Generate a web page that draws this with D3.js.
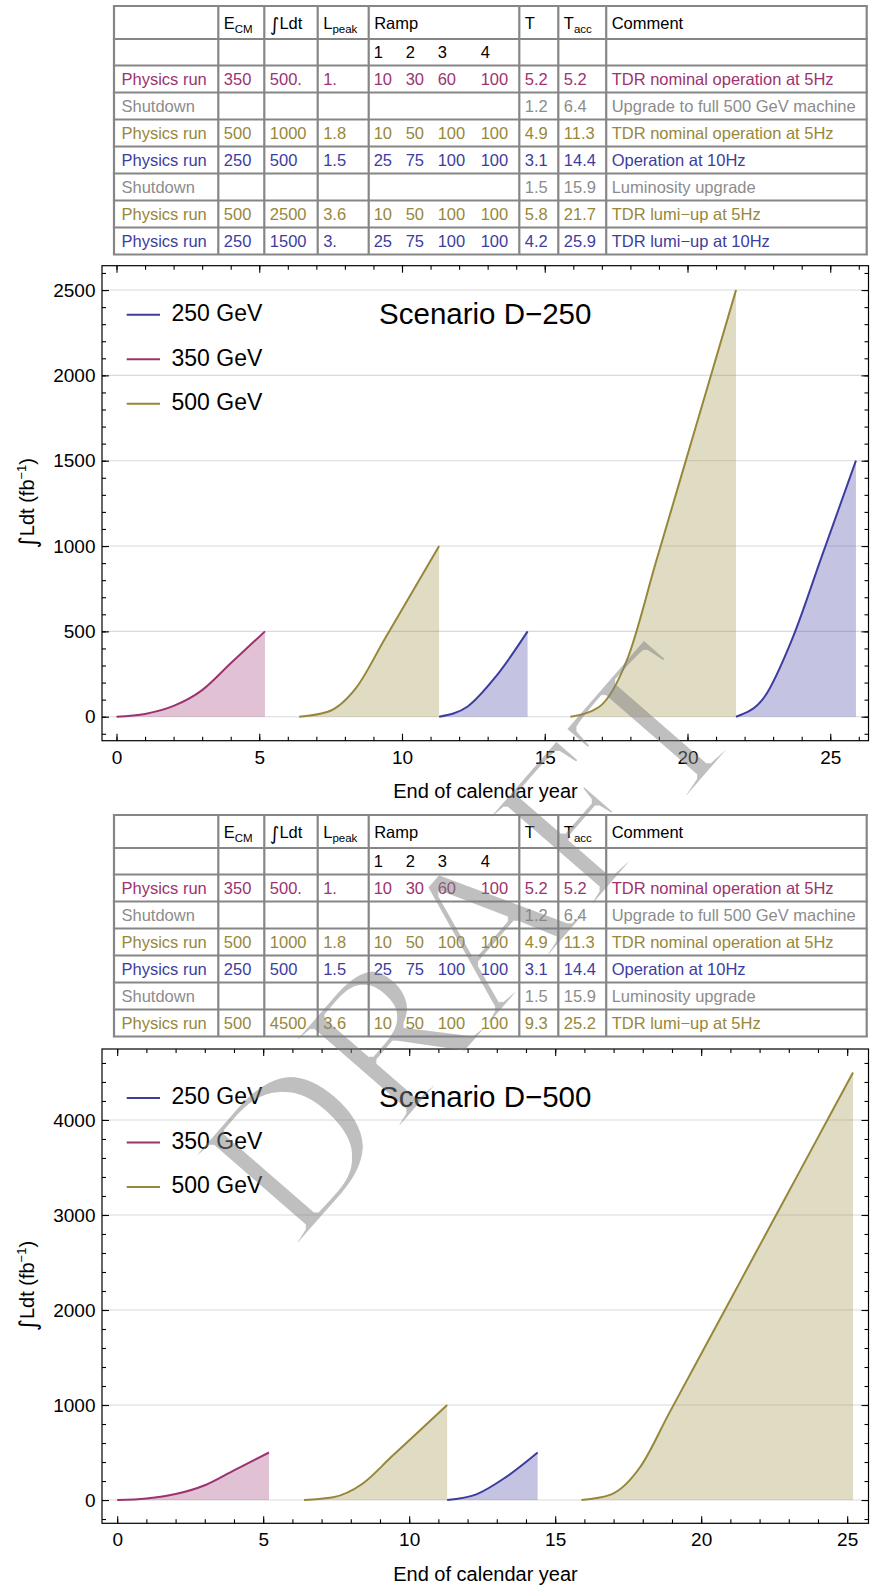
<!DOCTYPE html>
<html><head><meta charset="utf-8">
<script src="https://cdn.jsdelivr.net/npm/d3@7"></script>
<style>
body{margin:0;background:#fff;}
svg{display:block;font-family:"Liberation Sans",Arial,Helvetica,sans-serif;}
</style></head><body>
<svg id="c" width="870" height="1587"></svg>
<script>
// ------------------- DATA -------------------
const headerCols = ["", "E|CM", "\u222B|Ldt", "L|peak", "Ramp", "T", "T|acc", "Comment"];
const rampHeader = ["1", "2", "3", "4"];

// Table for scenario D-250
const kindD250    = ["350", "shut", "500", "250", "shut", "500", "250"];
const labelD250   = ["Physics run", "Shutdown", "Physics run", "Physics run", "Shutdown", "Physics run", "Physics run"];
const energyD250  = ["350", "", "500", "250", "", "500", "250"];
const lumiD250    = ["500.", "", "1000", "500", "", "2500", "1500"];
const peakD250    = ["1.", "", "1.8", "1.5", "", "3.6", "3."];
const rampD250    = [["10","30","60","100"], [], ["10","50","100","100"], ["25","75","100","100"], [], ["10","50","100","100"], ["25","75","100","100"]];
const tD250       = ["5.2", "1.2", "4.9", "3.1", "1.5", "5.8", "4.2"];
const taccD250    = ["5.2", "6.4", "11.3", "14.4", "15.9", "21.7", "25.9"];
const commentD250 = ["TDR nominal operation at 5Hz", "Upgrade to full 500 GeV machine", "TDR nominal operation at 5Hz", "Operation at 10Hz", "Luminosity upgrade", "TDR lumi\u2212up at 5Hz", "TDR lumi\u2212up at 10Hz"];

// Table for scenario D-500
const kindD500    = ["350", "shut", "500", "250", "shut", "500"];
const labelD500   = ["Physics run", "Shutdown", "Physics run", "Physics run", "Shutdown", "Physics run"];
const energyD500  = ["350", "", "500", "250", "", "500"];
const lumiD500    = ["500.", "", "1000", "500", "", "4500"];
const peakD500    = ["1.", "", "1.8", "1.5", "", "3.6"];
const rampD500    = [["10","30","60","100"], [], ["10","50","100","100"], ["25","75","100","100"], [], ["10","50","100","100"]];
const tD500       = ["5.2", "1.2", "4.9", "3.1", "1.5", "9.3"];
const taccD500    = ["5.2", "6.4", "11.3", "14.4", "15.9", "25.2"];
const commentD500 = ["TDR nominal operation at 5Hz", "Upgrade to full 500 GeV machine", "TDR nominal operation at 5Hz", "Operation at 10Hz", "Luminosity upgrade", "TDR lumi\u2212up at 5Hz"];

// Integrated luminosity curves (year, fb^-1)
const run350Years = [0, 1, 2, 3, 4, 5.2];
const run350Lumi  = [0, 16, 63, 156, 313, 500];
const run500aYears = [6.4, 7.4, 8.4, 9.4, 10.4, 11.3];
const run500aLumi  = [0, 29, 171, 457, 743, 1000];
const run250aYears = [11.3, 12.3, 13.3, 14.4];
const run250aLumi  = [0, 60, 238, 500];
const run500bYearsD250 = [15.9, 16.9, 17.9, 18.9, 19.9, 20.9, 21.7];
const run500bLumiD250  = [0, 57, 341, 909, 1477, 2045, 2500];
const run250bYearsD250 = [21.7, 22.7, 23.7, 24.7, 25.9];
const run250bLumiD250  = [0, 117, 469, 938, 1500];
const run500bYearsD500 = [15.9, 16.9, 17.9, 18.9, 19.9, 20.9, 21.9, 22.9, 23.9, 24.9, 25.2];
const run500bLumiD500  = [0, 57, 342, 912, 1481, 2051, 2620, 3190, 3759, 4329, 4500];

const legendLabels = ["250 GeV", "350 GeV", "500 GeV"];
const legendKinds  = ["250", "350", "500"];
const xTickValues = [0, 5, 10, 15, 20, 25];
const yTicksD250 = [0, 500, 1000, 1500, 2000, 2500];
const yTicksD500 = [0, 1000, 2000, 3000, 4000];

// ------------------- STYLE -------------------
const lineColor = {"250": "#3d3d9f", "350": "#9c3370", "500": "#978739", "shut": "#8c8c8c"};
const textColor = {"250": "#3d3d9f", "350": "#9c3370", "500": "#978739", "shut": "#8c8c8c"};
const INTEGRAL_FONT = "'DejaVu Sans',sans-serif";

const svg = d3.select("#c");
svg.append("rect").attr("width", 870).attr("height", 1587).attr("fill", "#fff");
const defs = svg.append("defs");
defs.append("filter").attr("id", "thin").attr("x", "-10%").attr("y", "-10%").attr("width", "120%").attr("height", "120%")
  .append("feMorphology").attr("operator", "erode").attr("radius", 2);

// ------------------- TABLES -------------------
const colX = [114, 218.3, 264.3, 317.7, 368.7, 519.3, 558.3, 606.2, 866.7];
const rampOffsets = [5, 37, 69, 112];

function drawTable(top, kinds, labels, energy, lumi, peak, ramp, tt, tacc, comment) {
  const g = svg.append("g");
  const rowTops = [top, top + 33, top + 59.5];
  for (let i = 0; i < kinds.length; i++) rowTops.push(top + 59.5 + 27 * (i + 1));
  const bottom = rowTops[rowTops.length - 1];
  const fs = 16.5;
  const hy = top + 16.5 + 6;
  headerCols.forEach((h, i) => {
    const parts = h.split("|");
    const t = g.append("text").attr("x", colX[i] + (i === 0 ? 7.5 : 5.5)).attr("y", hy)
      .attr("font-size", fs).attr("fill", "#000");
    if (parts[0] === "\u222B") {
      t.append("tspan").attr("font-family", INTEGRAL_FONT).attr("font-size", 18.5).attr("dy", 2).text("\u222B");
      t.append("tspan").attr("dy", -2).text(parts[1]);
    } else {
      t.append("tspan").text(parts[0]);
      if (parts[1]) t.append("tspan").attr("font-size", 11.5).attr("dy", 4).text(parts[1]);
    }
  });
  const sy = rowTops[1] + 13.25 + 5.5;
  rampHeader.forEach((r, j) => {
    g.append("text").attr("x", colX[4] + rampOffsets[j]).attr("y", sy).attr("font-size", fs).attr("fill", "#000").text(r);
  });
  kinds.forEach((k, i) => {
    const y = rowTops[i + 2] + 13.5 + 6;
    const c = textColor[k];
    const cells = [labels[i], energy[i], lumi[i], peak[i], null, tt[i], tacc[i], comment[i]];
    cells.forEach((v, ci) => {
      if (v === null || v === "") return;
      g.append("text").attr("x", colX[ci] + (ci === 0 ? 7.5 : 5.5)).attr("y", y)
        .attr("font-size", fs).attr("fill", c).text(v);
    });
    ramp[i].forEach((v, j) => {
      g.append("text").attr("x", colX[4] + rampOffsets[j]).attr("y", y)
        .attr("font-size", fs).attr("fill", c).text(v);
    });
  });
  const lc = "#868686", lw = 2.2;
  rowTops.forEach(yy => g.append("line").attr("x1", colX[0] - 1.1).attr("x2", colX[colX.length - 1] + 1.1)
    .attr("y1", yy).attr("y2", yy).attr("stroke", lc).attr("stroke-width", lw));
  colX.forEach(xx => g.append("line").attr("x1", xx).attr("x2", xx)
    .attr("y1", top).attr("y2", bottom).attr("stroke", lc).attr("stroke-width", lw));
}

drawTable(6, kindD250, labelD250, energyD250, lumiD250, peakD250, rampD250, tD250, taccD250, commentD250);
drawTable(815, kindD500, labelD500, energyD500, lumiD500, peakD500, rampD500, tD500, taccD500, commentD500);

// ------------------- CHARTS -------------------
function drawChart(opt) {
  const g = svg.append("g");
  const {x0, x1, y0, y1} = opt.frame;
  const x = d3.scaleLinear().domain(opt.xDomain).range([x0, x1]);
  const y = d3.scaleLinear().domain(opt.yDomain).range([y1, y0]);
  const clipId = "clip" + opt.id;
  g.append("clipPath").attr("id", clipId).append("rect")
    .attr("x", x0).attr("y", y0).attr("width", x1 - x0).attr("height", y1 - y0);

  g.append("g").selectAll("line").data(opt.yTicks).join("line")
    .attr("x1", x0).attr("x2", x1).attr("y1", d => y(d)).attr("y2", d => y(d))
    .attr("stroke", "#dadada").attr("stroke-width", 1.1);

  const plot = g.append("g").attr("clip-path", `url(#${clipId})`);
  const area = d3.area().x(d => x(d[0])).y0(y(0)).y1(d => y(d[1])).curve(d3.curveMonotoneX);
  const line = d3.line().x(d => x(d[0])).y(d => y(d[1])).curve(d3.curveMonotoneX);
  opt.series.forEach(s => {
    const pts = s.years.map((yr, i) => [yr, s.lumi[i]]);
    plot.append("path").attr("d", area(pts)).attr("fill", lineColor[s.kind]).attr("fill-opacity", 0.3);
  });
  opt.series.forEach(s => {
    const pts = s.years.map((yr, i) => [yr, s.lumi[i]]);
    plot.append("path").attr("d", line(pts)).attr("fill", "none")
      .attr("stroke", lineColor[s.kind]).attr("stroke-width", 2);
  });

  const xMinor = d3.range(0, Math.floor(opt.xDomain[1]) + 1, 1);
  const yMinor = d3.range(Math.ceil(opt.yDomain[0] / opt.yMinorStep) * opt.yMinorStep, opt.yDomain[1], opt.yMinorStep);
  const axisStyle = sel => { sel.select(".domain").remove(); sel.selectAll("line").attr("stroke", "#000").attr("stroke-width", 1.1); };

  g.append("g").attr("transform", `translate(0,${y1})`)
    .call(d3.axisBottom(x).tickValues(xTickValues).tickSize(-7).tickPadding(9.5).tickFormat(d3.format("d")))
    .call(axisStyle).call(s => s.selectAll("text").attr("font-size", 19).attr("fill", "#000").attr("font-family", null));
  g.append("g").attr("transform", `translate(0,${y1})`)
    .call(d3.axisBottom(x).tickValues(xMinor).tickSize(-4).tickFormat(""))
    .call(axisStyle);
  g.append("g").attr("transform", `translate(0,${y0})`)
    .call(d3.axisTop(x).tickValues(xTickValues).tickSize(-7).tickFormat("")).call(axisStyle);
  g.append("g").attr("transform", `translate(0,${y0})`)
    .call(d3.axisTop(x).tickValues(xMinor).tickSize(-4).tickFormat("")).call(axisStyle);

  g.append("g").attr("transform", `translate(${x0},0)`)
    .call(d3.axisLeft(y).tickValues(opt.yTicks).tickSize(-7).tickPadding(6.5).tickFormat(d3.format("d")))
    .call(axisStyle).call(s => s.selectAll("text").attr("font-size", 19).attr("fill", "#000").attr("font-family", null));
  g.append("g").attr("transform", `translate(${x0},0)`)
    .call(d3.axisLeft(y).tickValues(yMinor).tickSize(-4).tickFormat("")).call(axisStyle);
  g.append("g").attr("transform", `translate(${x1},0)`)
    .call(d3.axisRight(y).tickValues(opt.yTicks).tickSize(-7).tickFormat("")).call(axisStyle);
  g.append("g").attr("transform", `translate(${x1},0)`)
    .call(d3.axisRight(y).tickValues(yMinor).tickSize(-4).tickFormat("")).call(axisStyle);

  g.append("rect").attr("x", x0).attr("y", y0).attr("width", x1 - x0).attr("height", y1 - y0)
    .attr("fill", "none").attr("stroke", "#000").attr("stroke-width", 1.2);

  legendLabels.forEach((lab, i) => {
    const ly = y0 + 49 + 44.5 * i;
    g.append("line").attr("x1", 126.7).attr("x2", 160).attr("y1", ly).attr("y2", ly)
      .attr("stroke", lineColor[legendKinds[i]]).attr("stroke-width", 2);
    g.append("text").attr("x", 171.5).attr("y", ly + 6.3).attr("font-size", 23).attr("fill", "#000").text(lab);
  });
  g.append("text").attr("x", (x0 + x1) / 2).attr("y", y0 + 58.3).attr("text-anchor", "middle")
    .attr("font-size", 29.5).attr("fill", "#000").text(opt.title);
  g.append("text").attr("x", 485.5).attr("y", y1 + 57.6).attr("text-anchor", "middle")
    .attr("font-size", 20).attr("fill", "#000").text("End of calendar year");
  const yt = g.append("text").attr("transform", `translate(33.5,${(y0 + y1) / 2}) rotate(-90)`)
    .attr("text-anchor", "middle").attr("font-size", 20).attr("fill", "#000");
  yt.append("tspan").attr("font-family", INTEGRAL_FONT).attr("font-size", 23.5).attr("dy", 2.5).text("\u222B");
  yt.append("tspan").attr("dy", -2.5).text("Ldt (fb");
  yt.append("tspan").attr("font-size", 13).attr("dy", -8).text("\u22121");
  yt.append("tspan").attr("dy", 8).text(")");
}

drawChart({
  id: 1, frame: {x0: 102, x1: 868.5, y0: 265.7, y1: 740.7},
  xDomain: [-0.508, 26.34], yDomain: [-140.6, 2642.6], yTicks: yTicksD250, yMinorStep: 100,
  title: "Scenario D\u2212250",
  series: [
    {kind: "350", years: run350Years, lumi: run350Lumi},
    {kind: "500", years: run500aYears, lumi: run500aLumi},
    {kind: "250", years: run250aYears, lumi: run250aLumi},
    {kind: "500", years: run500bYearsD250, lumi: run500bLumiD250},
    {kind: "250", years: run250bYearsD250, lumi: run250bLumiD250}
  ]
});
drawChart({
  id: 2, frame: {x0: 102, x1: 868.5, y0: 1049, y1: 1523.3},
  xDomain: [-0.52, 25.73], yDomain: [-245, 4747], yTicks: yTicksD500, yMinorStep: 200,
  title: "Scenario D\u2212500",
  series: [
    {kind: "350", years: run350Years, lumi: run350Lumi},
    {kind: "500", years: run500aYears, lumi: run500aLumi},
    {kind: "250", years: run250aYears, lumi: run250aLumi},
    {kind: "500", years: run500bYearsD500, lumi: run500bLumiD500}
  ]
});

// ------------------- WATERMARK -------------------
svg.append("g").attr("filter", "url(#thin)")
  .append("text").attr("transform", "translate(470,942) rotate(-49)")
  .attr("text-anchor", "middle").attr("dy", "0.33em")
  .attr("font-family", "'Liberation Serif','Times New Roman',serif").attr("font-size", 212)
  .attr("fill", "#808080").attr("fill-opacity", 0.5).text("DRAFT");
</script>
</body></html>
